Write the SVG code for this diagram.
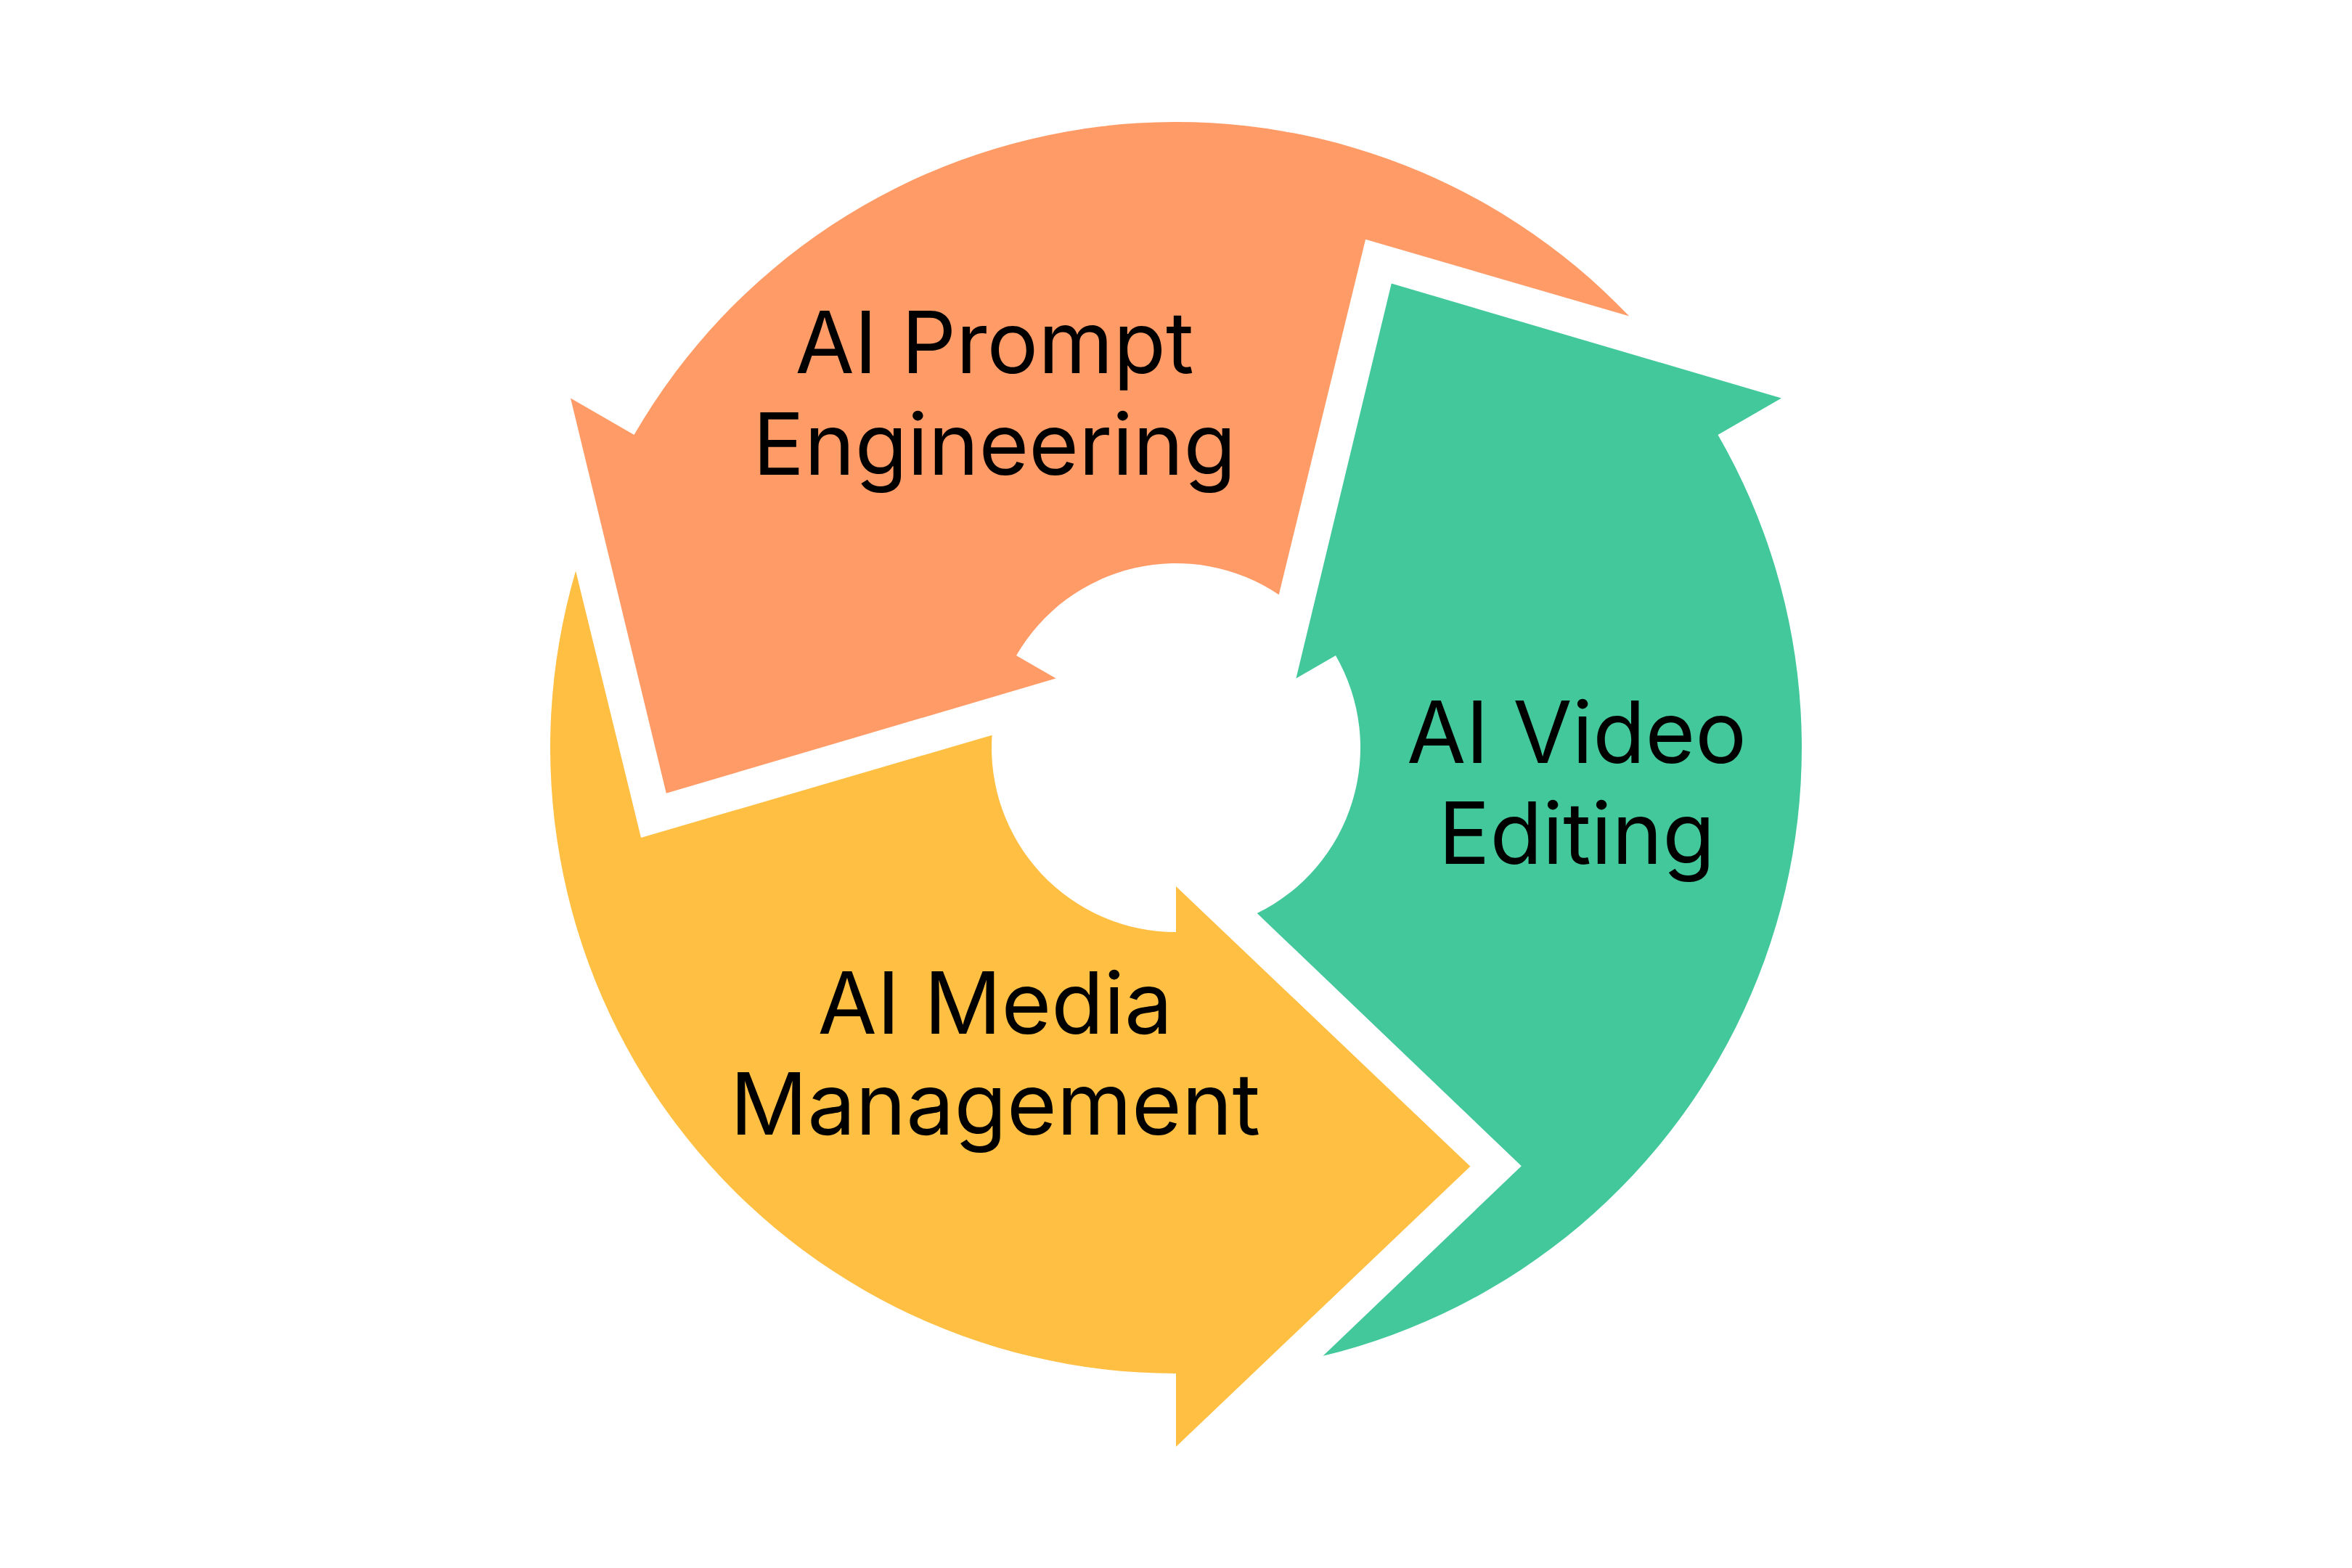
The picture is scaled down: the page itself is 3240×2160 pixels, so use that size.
<svg xmlns="http://www.w3.org/2000/svg" xmlns:xlink="http://www.w3.org/1999/xlink" width="3240" height="2160" viewBox="0 0 3240 2160">
  <style>
    .lbl { font-family: Inter, "Liberation Sans", sans-serif; font-size: 118px; fill: #000000; text-anchor: middle; }
    .orange { fill: #FF9B66; }
    .green { fill: #42C89A; }
    .yellow { fill: #FEBF43; }
  </style>
  <defs>
    <path id="seg" d="M -746.5 -431 A 862 862 0 0 1 624.3 -594.4 L 261.1 -700.2 L 141.7 -210.8 A 254 254 0 0 0 -220 -127 L -165.4 -95.5 L -702.2 62.7 L -834 -481.5 Z"/>
  </defs>
  <rect x="0" y="0" width="3240" height="2160" fill="#FFFFFF"/>
  <g id="node-prompt-engineering">
    <use xlink:href="#seg" href="#seg" class="orange" transform="translate(1620 1030)"/>
    <text class="lbl" x="1370" y="513.5">AI Prompt</text>
    <text class="lbl" x="1370" y="653.5">Engineering</text>
  </g>
  <g id="node-video-editing">
    <use xlink:href="#seg" href="#seg" class="green" transform="translate(1620 1030) rotate(120)"/>
    <text class="lbl" x="2172" y="1050.7">AI Video</text>
    <text class="lbl" x="2172" y="1190">Editing</text>
  </g>
  <g id="node-media-management">
    <use xlink:href="#seg" href="#seg" class="yellow" transform="translate(1620 1030) rotate(240)"/>
    <text class="lbl" x="1371" y="1423.7">AI Media</text>
    <text class="lbl" x="1371" y="1563.3">Management</text>
  </g>
</svg>
